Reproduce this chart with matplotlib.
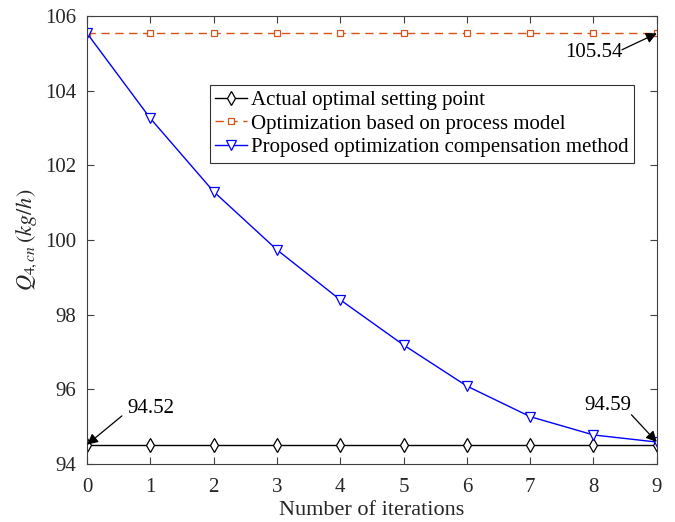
import numpy as np
import matplotlib.pyplot as plt

plt.rcParams['font.family'] = 'Liberation Serif'
plt.rcParams['mathtext.fontset'] = 'stix'

iterations = np.arange(10)
actual = [94.52] * 10
model_based = [105.54] * 10
proposed = [105.54, 103.26, 101.30, 99.74, 98.40, 97.19, 96.09, 95.27, 94.78, 94.59]

fig = plt.figure(figsize=(6.75, 5.22), dpi=100)
ax = fig.add_axes([0.129, 0.111, 0.844, 0.858])

ax.plot(iterations, actual, color='black', lw=1.0, marker='d', ms=7,
        mfc='white', mec='black', mew=0.9, label='Actual optimal setting point')
ax.plot(iterations, model_based, color='#D95319', lw=1.0, ls=(0, (6, 4)), marker='s', ms=5,
        mfc='white', mec='#D95319', mew=0.9, label='Optimization based on process model')
ax.plot(iterations, proposed, color='blue', lw=1.0, marker='v', ms=7,
        mfc='white', mec='blue', mew=0.9, label='Proposed optimization compensation method')

ax.set_xlim(0, 9)
ax.set_ylim(94, 106)
ax.set_xticks(range(10))
ax.set_yticks(range(94, 107, 2))
ax.tick_params(direction='in', top=True, right=True, labelsize=15, colors='#404040',
               labelcolor='#262626', length=5)
ax.tick_params(axis='x', pad=10)
ax.tick_params(axis='y', pad=8)
for s in ax.spines.values():
    s.set_color('#404040')
    s.set_linewidth(0.8)

ax.set_xlabel('Number of iterations', fontsize=16, labelpad=3, color='#262626')
ax.set_ylabel(r'$Q_{4,cn}\,(kg/h)$', fontsize=16, labelpad=4, color='#262626')

leg = ax.legend(loc='upper left', bbox_to_anchor=(0.216, 0.846), fontsize=15,
                frameon=True, fancybox=False, edgecolor='black', borderpad=0.25,
                labelspacing=0.2, handlelength=1.5, handletextpad=0.2, borderaxespad=0)
leg.get_frame().set_linewidth(0.8)

# value callouts with arrows
arrow = dict(arrowstyle='-|>', color='black', lw=0.9, mutation_scale=16, shrinkA=0, shrinkB=0)
ax.annotate('', xy=(0.0, 94.52), xytext=(0.55, 95.29), arrowprops=arrow)
ax.text(0.63, 95.37, '94.52', fontsize=15, va='baseline')
ax.annotate('', xy=(9.0, 94.59), xytext=(8.6, 95.32), arrowprops=arrow)
ax.text(7.85, 95.45, '94.59', fontsize=15, va='baseline')
ax.annotate('', xy=(9.0, 105.54), xytext=(8.45, 105.1), arrowprops=arrow)
ax.text(7.55, 104.9, '105.54', fontsize=15, va='baseline')

fig.savefig('out.png', dpi=100)
